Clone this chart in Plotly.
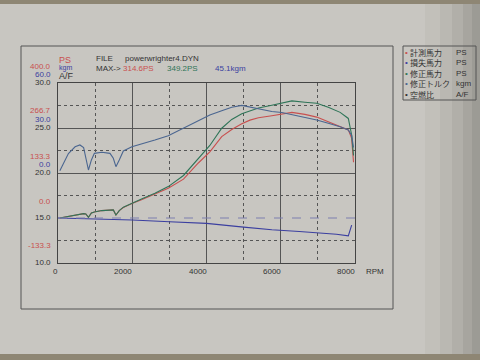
import plotly.graph_objects as go

# ---------------- data ----------------
rpm = [50, 280, 460, 590, 690, 750, 820, 900, 980, 1180, 1400, 1490, 1560, 1650, 1760,
       1990, 2250, 2610, 2970, 3380, 3780, 4090, 4410, 4680, 4950, 5170, 5400, 5760,
       6030, 6300, 6650, 6970, 7280, 7600, 7820, 7910, 7960]
measured_ps = [0, 5, 9, 11, 13, 12, 2, 15, 18, 22, 23, 24, 9, 22, 31,
               43, 54, 71, 88, 115, 163, 196, 241, 262, 279, 290, 297, 303,
               308, 313, 307, 299, 285, 270, 261, 236, 165]
corrected_ps = [0, 5, 9, 11, 13, 12, 2, 15, 18, 22, 23, 24, 9, 22, 32,
                44, 56, 73, 93, 126, 178, 215, 266, 292, 309, 318, 326, 334,
                340, 347, 343, 340, 328, 313, 295, 246, 185]
corrected_kgm = [1.5, 13, 17.5, 18.7, 16.9, 10.9, 2, 8.7, 13.1, 13.8, 13.1, 9.8, 4.2, 8.7, 14.7,
                 17.5, 19.3, 22, 24.9, 29.8, 34.7, 38.7, 41.5, 43.8, 45.1, 44.0, 42.5, 41.0,
                 40.3, 39.0, 37.3, 35.3, 33.2, 30.9, 28.7, 25.0, 17.0]
loss_rpm = [0, 1000, 2000, 3000, 4000, 5000, 5760, 6500, 7000, 7500, 7820, 7910]
loss_ps = [0, -2, -6, -11, -16, -27, -35, -40, -43.5, -48, -53, -21]
af_rpm = [0, 8000]
af_ratio = [15.0, 15.0]

x_ticks = [0, 2000, 4000, 6000, 8000]
ps_ticks = [400.0, 266.7, 133.3, 0.0, -133.3]
kgm_ticks = [60.0, 30.0, 0.0]
af_ticks = [30.0, 25.0, 20.0, 15.0, 10.0]

max_labels = ["314.6PS", "349.2PS", "45.1kgm"]
legend_names = ["計測馬力", "損失馬力", "修正馬力", "修正トルク", "空燃比"]
legend_units = ["PS", "PS", "PS", "kgm", "A/F"]

# ---------------- style ----------------
W, H = 480, 360
def px(x): return x / W
def py(y): return 1 - y / H

RED = "#c8504f"
GREEN = "#2f7558"
TORQ = "#4b6690"
LOSS = "#3b3fa0"
AFC = "#7c7eb0"
GRID = "#555555"
TXT = "#333333"
FONT = "Liberation Sans"

fig = go.Figure()
fig.add_trace(go.Scatter(x=rpm, y=corrected_kgm, yaxis="y2", mode="lines",
                         line=dict(color=TORQ, width=1.1), name="修正トルク"))
fig.add_trace(go.Scatter(x=af_rpm, y=af_ratio, yaxis="y3", mode="lines",
                         line=dict(color=AFC, width=1.2, dash="dash"), name="空燃比"))
fig.add_trace(go.Scatter(x=loss_rpm, y=loss_ps, mode="lines",
                         line=dict(color=LOSS, width=1.1), name="損失馬力"))
fig.add_trace(go.Scatter(x=rpm, y=measured_ps, mode="lines",
                         line=dict(color=RED, width=1.1), name="計測馬力"))
fig.add_trace(go.Scatter(x=rpm, y=corrected_ps, mode="lines",
                         line=dict(color=GREEN, width=1.1), name="修正馬力"))

dom_x = [px(58), px(355)]
dom_y = [py(263), py(83)]

fig.update_layout(
    width=W, height=H,
    margin=dict(l=0, r=0, t=0, b=0),
    paper_bgcolor="#c8c6c1",
    plot_bgcolor="rgba(0,0,0,0)",
    showlegend=False,
    font=dict(family=FONT, color=TXT, size=9),
    xaxis=dict(domain=dom_x, range=[0, 8000], showticklabels=False, ticks="",
               tickmode="array", tickvals=[2000, 4000, 6000],
               showgrid=True, gridcolor=GRID, gridwidth=1,
               minor=dict(tickmode="array", tickvals=[1000, 3000, 5000, 7000],
                          showgrid=True, gridcolor=GRID, griddash="dot", gridwidth=1),
               showline=True, linecolor="#444444", linewidth=1, mirror=True,
               zeroline=False, fixedrange=True),
    yaxis=dict(domain=dom_y, range=[-133.333, 400], showticklabels=False, ticks="",
               tickmode="array", tickvals=[133.333, 266.667],
               showgrid=True, gridcolor=GRID, gridwidth=1,
               minor=dict(tickmode="array", tickvals=[-66.667, 66.667, 200, 333.333],
                          showgrid=True, gridcolor=GRID, griddash="dot", gridwidth=1),
               showline=True, linecolor="#444444", linewidth=1, mirror=True,
               zeroline=False, fixedrange=True),
    yaxis2=dict(overlaying="y", range=[-60, 60], visible=False, showgrid=False, zeroline=False,
                fixedrange=True),
    yaxis3=dict(overlaying="y", range=[10, 30], visible=False, showgrid=False, zeroline=False,
                fixedrange=True),
)

shapes = []
# photo shading
for x0, a in [(425, 0.04), (440, 0.05), (452, 0.06), (463, 0.07), (472, 0.08)]:
    shapes.append(dict(type="rect", xref="paper", yref="paper", x0=px(x0), x1=1,
                       y0=0, y1=1, fillcolor=f"rgba(40,40,35,{a})", line=dict(width=0), layer="below"))
shapes.append(dict(type="rect", xref="paper", yref="paper", x0=0, x1=1, y0=py(4), y1=1,
                   fillcolor="#8e8674", line=dict(width=0), layer="below"))
shapes.append(dict(type="rect", xref="paper", yref="paper", x0=0, x1=1, y0=0, y1=py(354),
                   fillcolor="#8e8674", line=dict(width=0), layer="below"))
# outer frame
shapes.append(dict(type="rect", xref="paper", yref="paper", x0=px(21), x1=px(393),
                   y0=py(309), y1=py(46), line=dict(color="#555555", width=1)))
# legend box
shapes.append(dict(type="rect", xref="paper", yref="paper", x0=px(403), x1=px(476),
                   y0=py(100), y1=py(46), line=dict(color="#555555", width=1)))
fig.update_layout(shapes=shapes)

ann = []
def text(x, y, s, color=TXT, size=9, xanchor="left", yanchor="middle", family=FONT, **kw):
    ann.append(dict(x=x, y=y, text=s, showarrow=False, xanchor=xanchor, yanchor=yanchor,
                    borderpad=0, font=dict(color=color, size=size, family=family), **kw))

# left axis labels (three stacked scales)
for v in ps_ticks:
    text(px(52), v, f"{v:.1f}", color=RED, size=8, xanchor="right", xref="paper", yref="y", yshift=17)
for v in kgm_ticks:
    text(px(52), v, f"{v:.1f}", color=LOSS, size=8, xanchor="right", xref="paper", yref="y2", yshift=8.5)
for v in af_ticks:
    text(px(52), v, f"{v:.1f}", color=TXT, size=8, xanchor="right", xref="paper", yref="y3", yshift=0.5)

# x tick labels (right-aligned to grid lines)
for v in x_ticks:
    text(v, py(271), f"{v}", color=TXT, size=8, xanchor="right", xref="x", yref="paper", xshift=1)
text(px(365), py(271), "RPM", color=TXT, size=8, xref="paper", yref="paper")

# header
text(px(58), py(60), "PS", color=RED, size=9, xref="paper", yref="paper")
text(px(58), py(68), "kgm", color=LOSS, size=7, xref="paper", yref="paper")
text(px(58), py(76), "A/F", color=TXT, size=9, xref="paper", yref="paper")
text(px(95), py(59), "FILE", size=8, xref="paper", yref="paper")
text(px(124), py(59), "powerwrighter4.DYN", size=8, xref="paper", yref="paper")
text(px(95), py(68), "MAX->", size=8, xref="paper", yref="paper")
for xl, s, c in zip([122, 166, 214], max_labels, [RED, GREEN, LOSS]):
    text(px(xl), py(68), s, color=c, size=8, xref="paper", yref="paper")

# legend texts (multi-line blocks)
dot_colors = [RED, LOSS, GREEN, TORQ, TXT]
dots = "<br>".join(f"<span style='color:{c}'>•</span>" for c in dot_colors)
ann.append(dict(x=px(404), y=py(73.5), xref="paper", yref="paper", text=dots, showarrow=False,
                xanchor="left", yanchor="middle", align="left", borderpad=0,
                font=dict(size=8, family=FONT, color=TXT)))
ann.append(dict(x=px(409), y=py(73.5), xref="paper", yref="paper", text="<br>".join(legend_names),
                showarrow=False, xanchor="left", yanchor="middle", align="left", borderpad=0,
                font=dict(size=8, family="Noto Sans CJK JP", color=TXT)))
ann.append(dict(x=px(455), y=py(73.5), xref="paper", yref="paper", text="<br>".join(legend_units),
                showarrow=False, xanchor="left", yanchor="middle", align="left", borderpad=0,
                font=dict(size=8, family=FONT, color=TXT)))

fig.update_layout(annotations=ann)
fig.write_html("out.html", config={"displayModeBar": False},
               post_script="document.body.style.margin='0';document.body.style.padding='0';document.body.style.overflow='hidden';")
